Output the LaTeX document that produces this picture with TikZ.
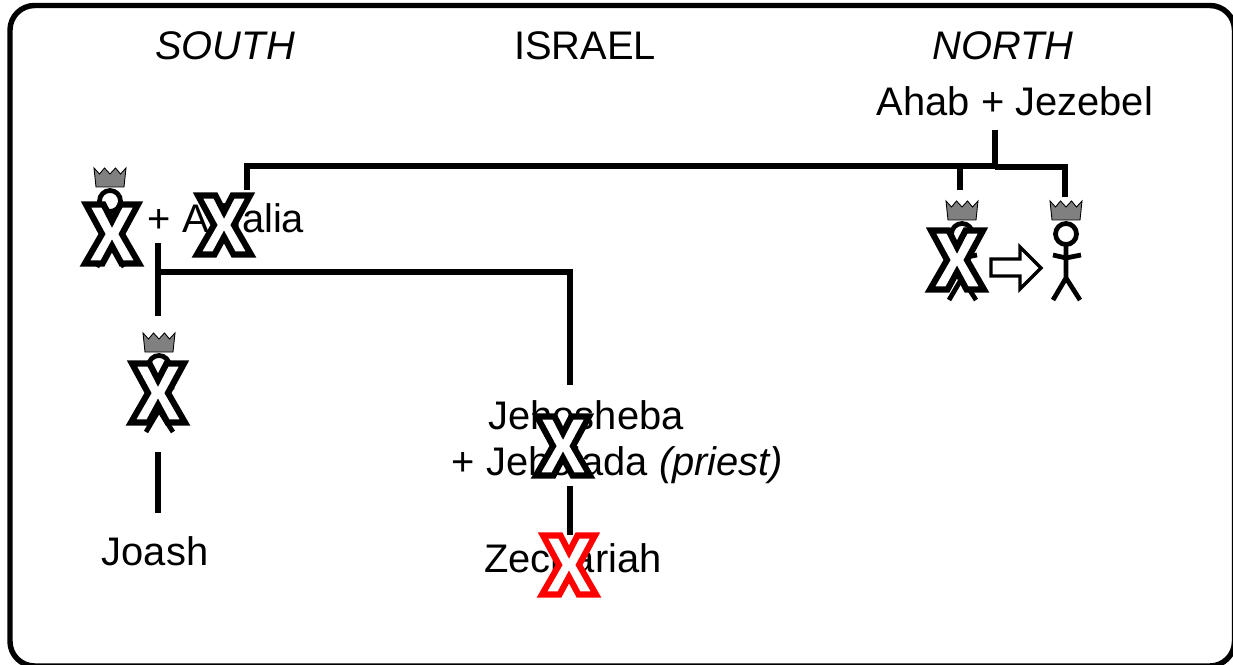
\documentclass[tikz,border=0pt]{standalone}
\usepackage{fontspec}
\setmainfont{Liberation Sans}
\begin{document}
\begin{tikzpicture}[
    x=0.02cm, y=-0.02cm,
    label/.style={font=\fontsize{22.7}{27}\selectfont, inner sep=0pt, text height=0.72em, text depth=0pt},
    link/.style={line width=3.1pt},
    heavy/.style={line width=3.6pt},
    pics/xmark/.style={code={
        \draw[line width=3.5pt, miter limit=3, fill=white, draw=#1]
            (-26,-29.5) -- (-8.5,-29.5) -- (0,-13) -- (8.5,-29.5) -- (26,-29.5) -- (10,0) -- (27,29.5)
            -- (9.5,29.5) -- (0,12) -- (-9.5,29.5) -- (-27,29.5) -- (-10,0) -- cycle;
    }},
    pics/xmark/.default=black,
    pics/crown/.style={code={
        \draw[line width=0.5pt, fill=black!50] (-14,9) -- (-16,-10) -- (-10.5,-4) -- (-5.5,-10) -- (0,-4)
            -- (5.5,-10) -- (10.5,-4) -- (16,-10) -- (14,9) -- cycle;
    }},
    pics/person/.style={code={
        \draw[line width=2.7pt] (0,0) circle (10.5);
        \draw[line width=2.7pt] (0,11) -- (0,44) -- (-13,66) (0,44) -- (14,66) (-13,21) -- (0,24) -- (15,21);
        \pic at (0,-23) {crown};
    }}
]
% Frame
\useasboundingbox (0,0) rectangle (1233,665);
\draw[line width=3.1pt, rounded corners=14pt] (10,5.5) rectangle (1234.5,666);
% Headings
\node[label, font=\fontsize{22.7}{27}\selectfont\itshape] (south) at (225,53) {SOUTH};
\node[label] (israel) at (585,53) {ISRAEL};
\node[label, font=\fontsize{22.7}{27}\selectfont\itshape] (north) at (1003,53) {NORTH};
% Names
\node[label] (ahab) at (1015,109) {Ahab + Jezebel};
\node[label] (athalia) at (226,226) {+ Athalia};
\node[label] (jehosheba) at (586,423) {Jehosheba};
\node[label] (jehoiada) at (617.5,469) {+ Jehoiada \textit{(priest)}};
\node[label] (joash) at (155,559) {Joash};
\node[label] (zechariah) at (573,566) {Zechariah};
% Junctions and free ends
\coordinate (ahabend) at (995,130);
\coordinate (topjoin) at (995,166);
\coordinate (rightjoin) at (995,167);
\coordinate (northleft) at (960,166);
\coordinate (athaliaend) at (247,190);
\coordinate (southjoin) at (158,272);
\coordinate (joramtop) at (158,243);
\coordinate (ahaziahtop) at (158,316);
\coordinate (joashline) at (158,452);
\coordinate (joashtop) at (158,513);
\coordinate (sheba) at (570,385);
\coordinate (priestend) at (570,486);
\coordinate (zechtop) at (570,535);
\coordinate (kingleft) at (960,190);
\coordinate (kingright) at (1065,197);
% Lines
\draw[link] (ahabend) -- (topjoin);
\draw[link] (topjoin) -- (athaliaend |- topjoin) -- (athaliaend);
\draw[link] (northleft) -- (kingleft);
\draw[heavy] (rightjoin) -- (kingright |- rightjoin) -- (kingright);
\draw[heavy] (joramtop) -- (ahaziahtop);
\draw[link] (southjoin) -- (sheba |- southjoin) -- (sheba);
\draw[heavy] (joashline) -- (joashtop);
\draw[link] (priestend) -- (zechtop);
% People
\pic at (110,201) {person};
\pic at (159,366) {person};
\pic at (962,234) {person};
\pic at (1066,234) {person};
% Arrow between the kings
\draw[line width=1.9pt, fill=white] (991,259) -- (1020,259) -- (1020,247) -- (1041,268) -- (1020,289)
    -- (1020,276) -- (991,276) -- cycle;
% Crossed out
\pic at (112,234) {xmark};
\pic at (224,225) {xmark};
\pic at (158,393) {xmark};
\pic at (957,260) {xmark};
\pic at (563,446) {xmark};
\pic at (569,565) {xmark=red};
\end{tikzpicture}
\end{document}
